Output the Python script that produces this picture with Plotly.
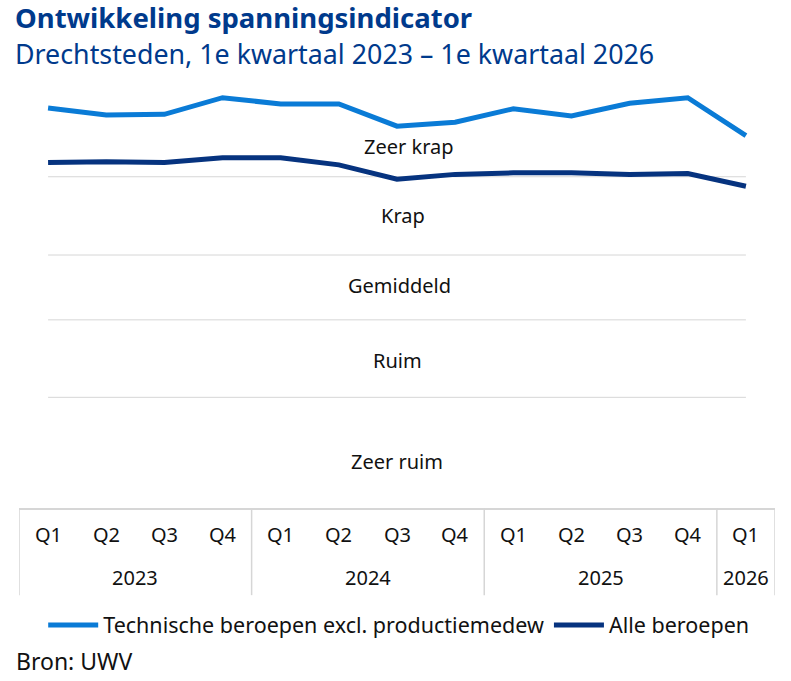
import plotly.graph_objects as go

# data
years = ["2023", "2024", "2025", "2026"]
year_span = [(0, 3), (4, 7), (8, 11), (12, 12)]
quarters = ["Q1", "Q2", "Q3", "Q4"] * 3 + ["Q1"]
year_of = ["2023"] * 4 + ["2024"] * 4 + ["2025"] * 4 + ["2026"]
periods = [q + " " + y for q, y in zip(quarters, year_of)]

technisch = [5.06, 4.97, 4.98, 5.19, 5.11, 5.11, 4.83, 4.88, 5.05, 4.96, 5.12, 5.19, 4.71]
alle = [4.37, 4.38, 4.37, 4.43, 4.43, 4.34, 4.16, 4.22, 4.24, 4.24, 4.22, 4.23, 4.07]

band_edges = [1.40, 2.38, 3.20, 4.19]
band_labels = ["Zeer krap", "Krap", "Gemiddeld", "Ruim", "Zeer ruim"]
band_label_y = [4.57, 3.70, 2.81, 1.87, 0.59]
band_label_x = [6.2, 6.1, 6.05, 6.0, 6.0]

FONT = "Noto Sans"
DARK = "#003a8c"
LIGHT = "#0a7bd6"
NAVY = "#06337f"
GRID = "#d6d6d6"
TXT = "#111111"

fig = go.Figure()
fig.add_trace(go.Scatter(x=periods, y=technisch, mode="lines",
                         name="Technische beroepen excl. productiemedew",
                         line=dict(color=LIGHT, width=5)))
fig.add_trace(go.Scatter(x=periods, y=alle, mode="lines",
                         name="Alle beroepen",
                         line=dict(color=NAVY, width=5)))

# band boundaries, only between first and last quarter
for e in band_edges:
    fig.add_shape(type="line", xref="x", yref="y", x0=0, x1=12, y0=e, y1=e,
                  line=dict(color=GRID, width=1), layer="below")

for lab, ly, lx in zip(band_labels, band_label_y, band_label_x):
    fig.add_annotation(x=lx, y=ly, xref="x", yref="y", text=lab, showarrow=False,
                       font=dict(family=FONT, size=20, color=TXT))

# two-level x axis: quarters, years and group dividers
for i, q in enumerate(quarters):
    fig.add_annotation(x=i, y=-0.064, xref="x", yref="paper", text=q, showarrow=False,
                       yanchor="middle", font=dict(family=FONT, size=20, color=TXT))
for y, (a, b) in zip(years, year_span):
    fig.add_annotation(x=(a + b) / 2, y=-0.167, xref="x", yref="paper", text=y,
                       showarrow=False, yanchor="middle",
                       font=dict(family=FONT, size=20, color=TXT))
for a, b in year_span:
    fig.add_shape(type="line", xref="x", yref="paper", x0=a - 0.5, x1=a - 0.5,
                  y0=0, y1=-0.208, line=dict(color=GRID, width=1.5))
fig.add_shape(type="line", xref="x", yref="paper", x0=12.5, x1=12.5,
              y0=0, y1=-0.208, line=dict(color=GRID, width=1.5))

fig.add_annotation(x=-0.006, y=1.1695, xref="paper", yref="paper", xanchor="left",
                   yanchor="middle", showarrow=False, borderpad=0,
                   text="<b>Ontwikkeling spanningsindicator</b>",
                   font=dict(family=FONT, size=27.5, color=DARK))
fig.add_annotation(x=-0.006, y=1.0845, xref="paper", yref="paper", xanchor="left",
                   yanchor="middle", showarrow=False, borderpad=0,
                   text="Drechtsteden, 1e kwartaal 2023 \u2013 1e kwartaal 2026",
                   font=dict(family=FONT, size=26.8, color=DARK))
fig.add_annotation(x=-0.006, y=-0.365, xref="paper", yref="paper", xanchor="left",
                   yanchor="middle", showarrow=False, text="Bron: UWV",
                   font=dict(family=FONT, size=23, color=TXT))

fig.update_layout(
    width=791, height=681,
    margin=dict(l=19, r=16, t=89, b=173),
    paper_bgcolor="white", plot_bgcolor="white",
    font=dict(family=FONT, size=20, color=TXT),
    showlegend=True,
    legend=dict(orientation="h", x=0.032, y=-0.279, xanchor="left", yanchor="middle",
                font=dict(family=FONT, size=21.5, color=TXT),
                itemwidth=50, tracegroupgap=0),
)
fig.update_xaxes(type="category", range=[-0.5, 12.5], showgrid=False,
                 showline=True, linecolor=GRID, linewidth=1.5,
                 ticks="", showticklabels=False)
fig.update_yaxes(range=[0, 5.3], showgrid=False, zeroline=False,
                 showticklabels=False, showline=False)

# page body has a default 8px margin; drop it so the figure sits at the corner
fig.write_html("out.html", config={"displayModeBar": False},
               post_script="document.body.style.margin='0';")
